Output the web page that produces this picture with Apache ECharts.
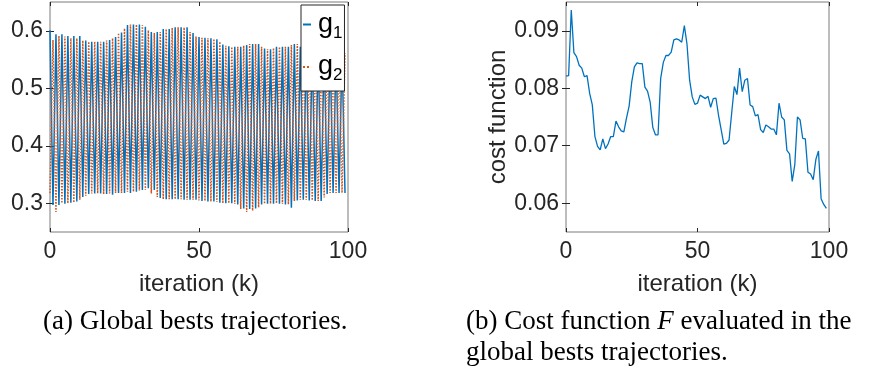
<!DOCTYPE html>
<html>
<head>
<meta charset="utf-8">
<script src="https://cdn.jsdelivr.net/npm/echarts@6.0.0/dist/echarts.min.js"></script>
<style>
    html, body { margin: 0; padding: 0; background: #fff; }
    #grafico { width: 876px; height: 372px; }
</style>
</head>
<body>
<div id="grafico"></div>
<script>
// global best g1 (blue): high on even iterations, low on odd ones
const g1 = [
    0.601, 0.297, 0.594, 0.297, 0.594, 0.299, 0.591, 0.301, 0.591, 0.303,
    0.591, 0.311, 0.583, 0.316, 0.581, 0.317, 0.581, 0.317, 0.581, 0.316,
    0.584, 0.315, 0.589, 0.318, 0.597, 0.318, 0.610, 0.318, 0.611, 0.320,
    0.611, 0.323, 0.607, 0.326, 0.598, 0.323, 0.598, 0.309, 0.603, 0.307,
    0.603, 0.307, 0.606, 0.307, 0.606, 0.306, 0.606, 0.306, 0.596, 0.306,
    0.589, 0.304, 0.588, 0.303, 0.587, 0.303, 0.585, 0.301, 0.576, 0.300,
    0.573, 0.300, 0.572, 0.298, 0.572, 0.291, 0.575, 0.290, 0.577, 0.291,
    0.577, 0.298, 0.569, 0.299, 0.568, 0.299, 0.572, 0.299, 0.572, 0.298,
    0.572, 0.292, 0.577, 0.305, 0.572, 0.306, 0.570, 0.305, 0.570, 0.304,
    0.568, 0.304, 0.568, 0.316, 0.566, 0.318, 0.565, 0.318, 0.563, 0.318
];

// global best g2 (orange): low on even iterations, high on odd ones
const g2 = [
    0.318, 0.584, 0.285, 0.591, 0.300, 0.590, 0.300, 0.587, 0.301, 0.587,
    0.306, 0.583, 0.313, 0.581, 0.317, 0.581, 0.317, 0.581, 0.316, 0.583,
    0.317, 0.587, 0.318, 0.596, 0.318, 0.604, 0.320, 0.611, 0.320, 0.611,
    0.322, 0.610, 0.323, 0.601, 0.317, 0.596, 0.311, 0.598, 0.307, 0.603,
    0.307, 0.605, 0.307, 0.606, 0.307, 0.606, 0.306, 0.598, 0.306, 0.590,
    0.305, 0.588, 0.304, 0.587, 0.303, 0.586, 0.302, 0.581, 0.300, 0.574,
    0.300, 0.572, 0.299, 0.572, 0.290, 0.574, 0.285, 0.577, 0.287, 0.577,
    0.293, 0.572, 0.299, 0.568, 0.299, 0.570, 0.300, 0.572, 0.299, 0.572,
    0.298, 0.575, 0.304, 0.577, 0.306, 0.572, 0.306, 0.570, 0.305, 0.569,
    0.304, 0.568, 0.310, 0.567, 0.318, 0.566, 0.318, 0.564, 0.318, 0.561
];

// cost function F along the trajectories
const costo = [
    0.0821, 0.0822, 0.0936, 0.0862, 0.0855, 0.0840, 0.0835, 0.0820, 0.0822, 0.0791,
    0.0771, 0.0716, 0.0699, 0.0693, 0.0712, 0.0695, 0.0703, 0.0716, 0.0716, 0.0743,
    0.0733, 0.0726, 0.0724, 0.0748, 0.0769, 0.0811, 0.0837, 0.0844, 0.0843, 0.0843,
    0.0802, 0.0795, 0.0776, 0.0732, 0.0719, 0.0719, 0.0817, 0.0845, 0.0857, 0.0857,
    0.0863, 0.0884, 0.0886, 0.0884, 0.0880, 0.0909, 0.0877, 0.0814, 0.0785, 0.0772,
    0.0774, 0.0788, 0.0785, 0.0782, 0.0786, 0.0767, 0.0782, 0.0783, 0.0753, 0.0728,
    0.0703, 0.0704, 0.0710, 0.0757, 0.0803, 0.0789, 0.0835, 0.0794, 0.0814, 0.0817,
    0.0771, 0.0768, 0.0752, 0.0754, 0.0728, 0.0723, 0.0736, 0.0733, 0.0729, 0.0729,
    0.0719, 0.0774, 0.0750, 0.0745, 0.0692, 0.0686, 0.0638, 0.0667, 0.0750, 0.0745,
    0.0713, 0.0712, 0.0654, 0.0651, 0.0641, 0.0676, 0.0691, 0.0608, 0.0598, 0.0591
];

const iteraciones = costo.map((_, k) => k);
const ticksX = [0, 50, 100];
const ticksIzq = [0.3, 0.4, 0.5, 0.6];
const ticksDer = [0.06, 0.07, 0.08, 0.09];

const AZUL = "#0072BD";
const NARANJA = "#D95319";
const TEXTO = "#262626";
const SANS = "Liberation Sans";
const SERIF = "Liberation Serif";

function ejeX(grid, arriba) {
    return {
        type: "value",
        gridIndex: grid,
        position: arriba ? "top" : "bottom",
        min: 0, max: 100,
        axisLine: { show: false },
        splitLine: { show: false },
        axisTick: { inside: true, length: 4, customValues: ticksX, lineStyle: { color: TEXTO } },
        axisLabel: {
            show: !arriba, customValues: ticksX, margin: 8,
            fontFamily: SANS, fontSize: 23, color: TEXTO
        },
        name: arriba ? "" : "iteration (k)",
        nameLocation: "middle",
        nameGap: 40,
        nameTextStyle: { fontFamily: SANS, fontSize: 24, color: TEXTO }
    };
}

function ejeY(grid, derecha, min, max, ticks, nombre) {
    return {
        type: "value",
        gridIndex: grid,
        position: derecha ? "right" : "left",
        min, max,
        axisLine: { show: false },
        splitLine: { show: false },
        axisTick: { inside: true, length: 4, customValues: ticks, lineStyle: { color: TEXTO } },
        axisLabel: {
            show: !derecha, customValues: ticks, margin: 7,
            fontFamily: SANS, fontSize: 23, color: TEXTO
        },
        name: derecha ? "" : nombre,
        nameLocation: "middle",
        nameGap: 56,
        nameTextStyle: { fontFamily: SANS, fontSize: 24, color: TEXTO }
    };
}

const opciones = {
    animation: false,
    backgroundColor: "#fff",
    grid: [
        { left: 50, top: 2, width: 298, height: 230, show: true, borderColor: "#7a7a7a", borderWidth: 1 },
        { left: 566, top: 2, width: 263, height: 230, show: true, borderColor: "#7a7a7a", borderWidth: 1 }
    ],
    xAxis: [ejeX(0, false), ejeX(0, true), ejeX(1, false), ejeX(1, true)],
    yAxis: [
        ejeY(0, false, 0.25, 0.65, ticksIzq, ""),
        ejeY(0, true, 0.25, 0.65, ticksIzq, ""),
        ejeY(1, false, 0.055, 0.095, ticksDer, "cost function"),
        ejeY(1, true, 0.055, 0.095, ticksDer, "")
    ],
    legend: {
        data: ["g1", "g2"],
        orient: "vertical",
        left: 301, top: 5,
        backgroundColor: "#fff",
        borderColor: TEXTO, borderWidth: 1, borderRadius: 0,
        padding: [6, 2, 7, 1],
        itemWidth: 8, itemHeight: 10,
        itemGap: 12,
        itemStyle: { opacity: 0 },
        lineStyle: { width: 2 },
        formatter: nombre => "{g|g}{s|" + nombre.slice(1) + "}",
        textStyle: {
            rich: {
                g: { fontFamily: SANS, fontSize: 27, lineHeight: 34, color: "#000", padding: [0, 0, 0, 2] },
                s: { fontFamily: SANS, fontSize: 17, lineHeight: 20, verticalAlign: "bottom", color: "#000" }
            }
        }
    },
    series: [
        {
            name: "g1", type: "line", xAxisIndex: 0, yAxisIndex: 0,
            data: iteraciones.map((k, i) => [k, g1[i]]),
            symbol: "none",
            lineStyle: { color: AZUL, width: 1.5 },
            itemStyle: { color: AZUL }
        },
        {
            name: "g2", type: "line", xAxisIndex: 0, yAxisIndex: 0,
            data: iteraciones.map((k, i) => [k, g2[i]]),
            symbol: "none",
            lineStyle: { color: NARANJA, width: 1.5, type: "dotted" },
            itemStyle: { color: NARANJA }
        },
        {
            name: "F", type: "line", xAxisIndex: 2, yAxisIndex: 2,
            data: iteraciones.map((k, i) => [k, costo[i]]),
            symbol: "none",
            lineStyle: { color: AZUL, width: 1.3 }
        }
    ],
    graphic: [
        {
            type: "text", left: 43, top: 308,
            style: { text: "(a) Global bests trajectories.", font: '27px "Liberation Serif"', fill: "#000" }
        },
        {
            type: "text", left: 466, top: 308,
            style: {
                text: "(b) Cost function {it|F} evaluated in the",
                font: '27px "Liberation Serif"', fill: "#000",
                rich: { it: { fontStyle: "italic", fontFamily: SERIF, fontSize: 27 } }
            }
        },
        {
            type: "text", left: 466, top: 339,
            style: { text: "global bests trajectories.", font: '27px "Liberation Serif"', fill: "#000" }
        }
    ]
};

const miGrafico = echarts.init(document.getElementById("grafico"));
miGrafico.setOption(opciones);
</script>
</body>
</html>
